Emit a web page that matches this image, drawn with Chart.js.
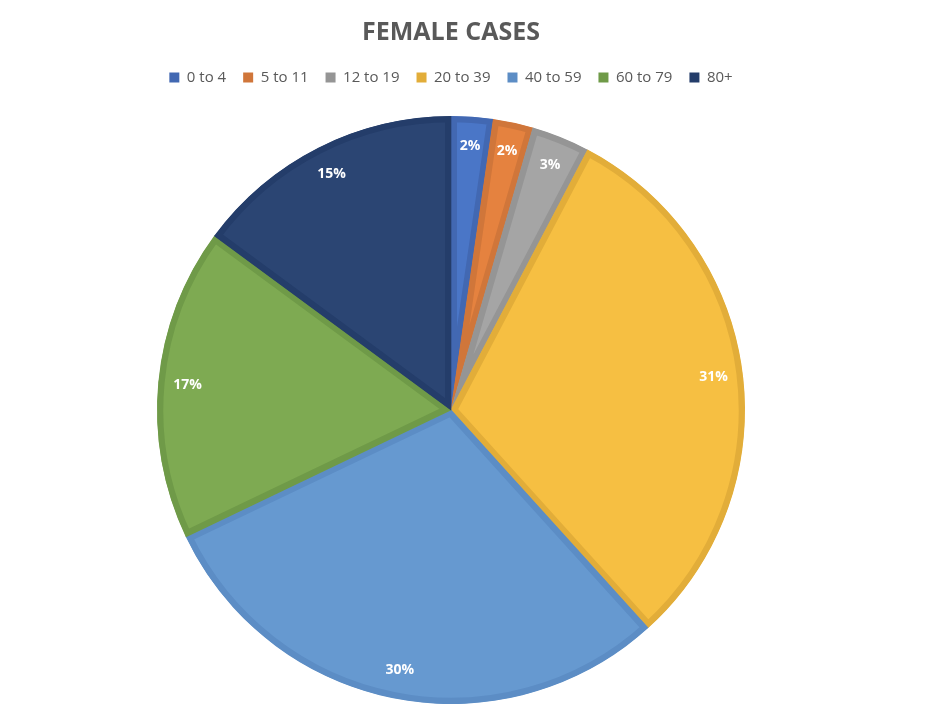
<!DOCTYPE html>
<html>
<head>
<meta charset="utf-8">
<title>Female cases</title>
<script src="https://cdn.jsdelivr.net/npm/chart.js@4"></script>
<style>
  html, body { margin: 0; padding: 0; background: #fff; }
  #wrap { width: 926px; height: 722px; }
</style>
</head>
<body>
<div id="wrap"><canvas id="pieChart"></canvas></div>
<script>
// age groups and share of female cases
var ageGroups = ["0 to 4", "5 to 11", "12 to 19", "20 to 39", "40 to 59", "60 to 79", "80+"];
var caseShare = [2.3, 2.2, 3.2, 30.6, 29.6, 17.2, 14.9];

var fillColors = ["#4A76C7", "#E5823F", "#A5A5A5", "#F6BF42", "#6699D0", "#7EAA52", "#2B4573"];
var edgeColors = ["#4268B2", "#D0763A", "#959595", "#E2AD39", "#5C8DC5", "#6F9A48", "#243D6A"];

// white percentage labels near the outer edge of each slice
var sliceLabels = {
    id: 'sliceLabels',
    afterDatasetsDraw: function (chart) {
        var ctx = chart.ctx;
        var meta = chart.getDatasetMeta(0);
        var total = caseShare.reduce(function (a, b) { return a + b; }, 0);
        ctx.save();
        ctx.fillStyle = "#ffffff";
        ctx.font = "bold 14px 'Open Sans', sans-serif";
        ctx.textAlign = "center";
        ctx.textBaseline = "middle";
        meta.data.forEach(function (arc, i) {
            var mid = (arc.startAngle + arc.endAngle) / 2;
            var r = arc.outerRadius * 0.9;
            var x = arc.x + Math.cos(mid) * r;
            var y = arc.y + Math.sin(mid) * r;
            ctx.fillText(Math.round(caseShare[i] / total * 100) + "%", x, y);
        });
        ctx.restore();
    }
};

// extra room under the legend
var legendGap = {
    id: 'legendGap',
    beforeInit: function (chart) {
        var fit = chart.legend.fit;
        chart.legend.fit = function () {
            fit.bind(chart.legend)();
            this.height += 21;
        };
    }
};

var ctx = document.getElementById("pieChart").getContext('2d');
var myPie = new Chart(ctx, {
    type: 'pie',
    data: {
        labels: ageGroups,
        datasets: [{
            data: caseShare,
            backgroundColor: fillColors,
            borderColor: edgeColors,
            borderWidth: 6,
            borderAlign: 'inner'
        }]
    },
    options: {
        responsive: true,
        maintainAspectRatio: false,
        animation: false,
        layout: {
            padding: { top: 4, bottom: 18, left: 0, right: 24 }
        },
        plugins: {
            title: {
                display: true,
                text: "FEMALE CASES",
                color: "#595959",
                font: { family: "'Open Sans', sans-serif", size: 25, weight: 'bold' },
                padding: { top: 14, bottom: 5 }
            },
            legend: {
                position: 'top',
                labels: {
                    color: "#595959",
                    font: { family: "'Open Sans', sans-serif", size: 15 },
                    boxWidth: 10,
                    boxHeight: 10,
                    padding: 17,
                    generateLabels: function (chart) {
                        return ageGroups.map(function (g, i) {
                            return {
                                text: g,
                                fillStyle: edgeColors[i],
                                strokeStyle: edgeColors[i],
                                lineWidth: 0,
                                fontColor: "#595959",
                                index: i
                            };
                        });
                    }
                }
            },
            tooltip: { enabled: false }
        }
    },
    plugins: [sliceLabels, legendGap]
});
</script>
</body>
</html>
